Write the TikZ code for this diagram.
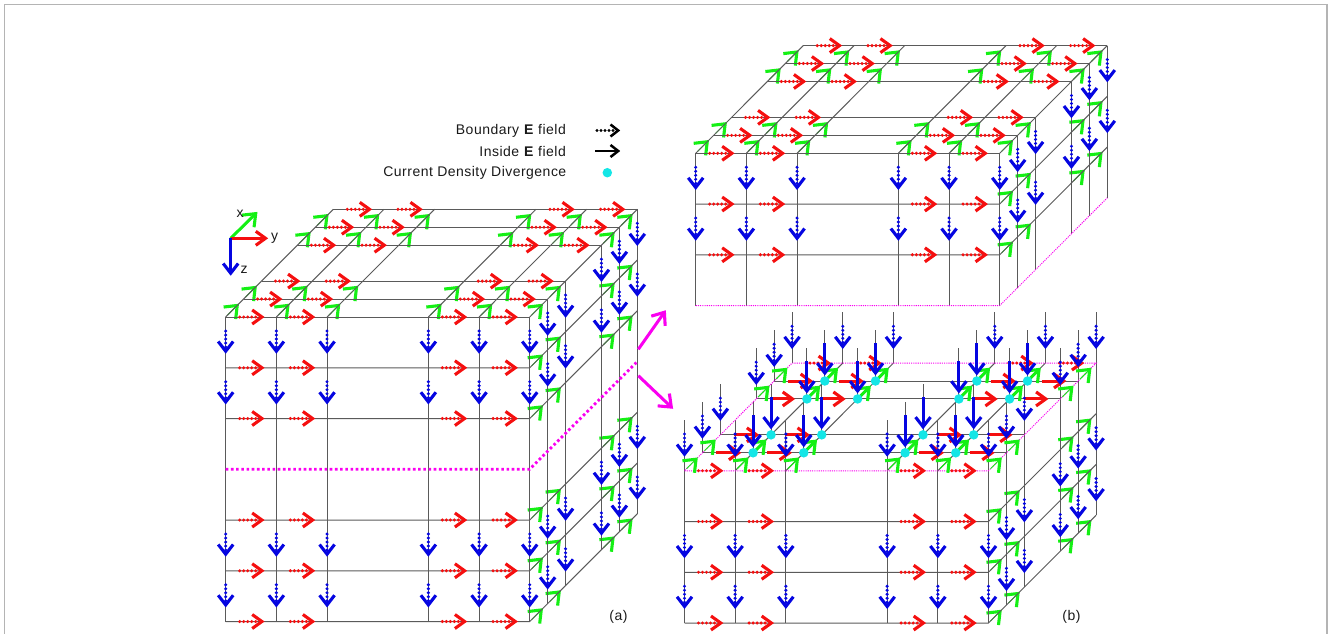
\documentclass[tikz,border=0pt]{standalone}
\usepackage{fontspec}
\setmainfont{Liberation Sans}
\newfontfamily\legendfont[LetterSpace=3.4]{Liberation Sans}
\usetikzlibrary{arrows.meta}

\definecolor{c2Grid}{RGB}{90,90,90}
\definecolor{c2Frame}{RGB}{180,180,180}
\definecolor{c2Red}{RGB}{245,15,15}
\definecolor{c2Green}{RGB}{20,240,20}
\definecolor{c2Blue}{RGB}{5,5,225}
\definecolor{c2Cut}{RGB}{250,0,240}
\definecolor{c2Div}{RGB}{20,230,230}

%% open chevron head, its outer point on the end of the path
\pgfdeclarearrow{
  name = Chev,
  setup code = {
    \pgfarrowssettipend{0pt}
    \pgfarrowssetbackend{-\pgfarrowlength}
    \pgfarrowssetlineend{-3pt}
    \pgfarrowssavethe\pgfarrowlength
    \pgfarrowssavethe\pgfarrowwidth
    \pgfarrowssavethe\pgfarrowlinewidth
  },
  drawing code = {
    \pgfsetdash{}{0pt}
    \pgfsetmiterjoin
    \pgfsetbuttcap
    \pgfsetlinewidth{\pgfarrowlinewidth}
    \pgfpathmoveto{\pgfqpoint{-\pgfarrowlength}{.5\pgfarrowwidth}}
    \pgfpathlineto{\pgfqpoint{-2.8pt}{0pt}}
    \pgfpathlineto{\pgfqpoint{-\pgfarrowlength}{-.5\pgfarrowwidth}}
    \pgfusepathqstroke
  },
  parameters = {\the\pgfarrowlength,\the\pgfarrowwidth,\the\pgfarrowlinewidth},
  defaults = {length=11pt, width=12pt, line width=2.7pt}
}

\tikzset{
  gridline/.style={draw=c2Grid, line width=1pt},
  cutthin/.style={draw=c2Cut, line width=1pt, dash pattern=on 1.1pt off 1.1pt},
  cutthick/.style={draw=c2Cut, line width=2.8pt, dash pattern=on 2.6pt off 2.6pt},
  thin shaft/.style={line width=1pt},
  solid shaft/.style={line width=3pt},
  redhead/.style={-{Chev[length=12.5pt, width=14pt, line width=3.1pt]}, draw=c2Red},
  greenhead/.style={-{Chev[length=13.5pt, width=17pt, line width=3.1pt]}, draw=c2Green},
  bluehead/.style={-{Chev[length=12.5pt, width=15pt, line width=3.1pt]}, draw=c2Blue},
  blackhead/.style={-{Chev[length=10.5pt, width=12pt, line width=2.5pt]}, draw=black},
  cuthead/.style={-{Chev[length=13.5pt, width=17pt, line width=3.1pt]}, draw=c2Cut, line width=3pt},
  divdot/.style={circle, fill=c2Div, draw=none, inner sep=0pt, minimum size=9.5pt},
  legendtext/.style={anchor=east, inner sep=0pt, font=\legendfont\fontsize{14}{16}\selectfont, text=black!90},
}

%% grid point: column, row, depth
\newcommand{\pnt}[3]{({(#1)*50.67+(#3)*17.93},{(#2)*50.75-(#3)*17.95})}
%% run of dots: colour, start point, direction x, direction y
\newcommand{\dotRun}[4]{\foreach \pp in {14,18,22,26,30} {\fill[#1, shift={#2}] ({\pp*#3},{\pp*#4}) circle[radius=1.7pt];}}
\newcommand{\redDot}[3]{\dotRun{c2Red}{\pnt{#1}{#2}{#3}}{1}{0}\draw[redhead, thin shaft, shift={\pnt{#1}{#2}{#3}}] (35,0) -- (39,0);}
\newcommand{\redLine}[3]{\draw[redhead, solid shaft, shift={\pnt{#1}{#2}{#3}}] (14,0) -- (39,0);}
\newcommand{\blueDot}[3]{\dotRun{c2Blue}{\pnt{#1}{#2}{#3}}{0}{1}\draw[bluehead, thin shaft, shift={\pnt{#1}{#2}{#3}}] (0,33) -- (0,37);}
\newcommand{\blueLine}[3]{\draw[bluehead, solid shaft, shift={\pnt{#1}{#2}{#3}}] (0,13) -- (0,45.5);}
\newcommand{\greenDot}[3]{\draw[greenhead, thin shaft, shift={\pnt{#1}{#2}{#3}}] (2,-2) -- (13.5,-13.5);}
\newcommand{\greenLine}[3]{\draw[greenhead, solid shaft, shift={\pnt{#1}{#2}{#3}}] (2,-2) -- (13.5,-13.5);}

\def\colsAll{0,1,2,4,5,6}
\def\colsIn{1,2,4,5}
\def\colsRed{0,1,4,5}
\def\depGreen{0,1,4,5}

%% top face and rows 0 to 2
\newcommand{\upperBlock}{
  \foreach \cc in \colsAll {\foreach \dd in \depGreen {\greenDot{\cc}{0}{\dd}}}
  \foreach \rr in {1,2} {\foreach \dd in \depGreen {\greenDot{6}{\rr}{\dd}}}
  \foreach \dd in \colsAll {
    \draw[gridline] \pnt{0}{0}{\dd} -- \pnt{6}{0}{\dd};
    \draw[gridline] \pnt{6}{0}{\dd} -- \pnt{6}{3}{\dd};
  }
  \foreach \cc in \colsAll {
    \draw[gridline] \pnt{\cc}{0}{0} -- \pnt{\cc}{0}{6};
    \draw[gridline] \pnt{\cc}{0}{0} -- \pnt{\cc}{3}{0};
  }
  \foreach \rr in {1,2} {
    \draw[gridline] \pnt{0}{\rr}{0} -- \pnt{6}{\rr}{0} -- \pnt{6}{\rr}{6};
  }
  \foreach \cc in \colsRed {
    \foreach \dd in \colsAll {\redDot{\cc}{0}{\dd}}
    \foreach \rr in {1,2} {\redDot{\cc}{\rr}{0}}
  }
  \foreach \rr in {0,1} {
    \foreach \cc in \colsAll {\blueDot{\cc}{\rr}{0}}
    \foreach \dd in {1,2,4,5,6} {\blueDot{6}{\rr}{\dd}}
  }
}
%% rows 3 to 6
\newcommand{\lowerBlock}{
  \foreach \rr in {4,5,6} {\foreach \dd in \depGreen {\greenDot{6}{\rr}{\dd}}}
  \foreach \dd in \colsAll {\draw[gridline] \pnt{6}{3}{\dd} -- \pnt{6}{6}{\dd};}
  \foreach \cc in \colsAll {\draw[gridline] \pnt{\cc}{3}{0} -- \pnt{\cc}{6}{0};}
  \foreach \rr in {4,5,6} {
    \draw[gridline] \pnt{0}{\rr}{0} -- \pnt{6}{\rr}{0} -- \pnt{6}{\rr}{6};
    \foreach \cc in \colsRed {\redDot{\cc}{\rr}{0}}
  }
  \foreach \rr in {4,5} {
    \foreach \cc in \colsAll {\blueDot{\cc}{\rr}{0}}
    \foreach \dd in {1,2,4,5,6} {\blueDot{6}{\rr}{\dd}}
  }
}
%% the cut plane with its divergence points
\newcommand{\planeBlock}{
  \foreach \dd in \colsIn {
    \draw[gridline] \pnt{0}{3}{\dd} -- \pnt{6}{3}{\dd};
    \draw[gridline] \pnt{\dd}{3}{0} -- \pnt{\dd}{3}{6};
  }
  \foreach \cc in \colsAll {\foreach \dd in \colsAll {
    \draw[gridline] \pnt{\cc}{2}{\dd} -- \pnt{\cc}{3}{\dd};
  }}
  \draw[cutthin] \pnt{0}{3}{0} -- \pnt{6}{3}{0} -- \pnt{6}{3}{6} -- \pnt{0}{3}{6} -- cycle;
  \foreach \cc in \colsRed {
    \foreach \dd in {0,6} {\redDot{\cc}{3}{\dd}}
    \foreach \dd in \colsIn {\redLine{\cc}{3}{\dd}}
  }
  \foreach \cc in \colsAll {\greenDot{\cc}{3}{0}}
  \foreach \cc in {0,6} {\foreach \dd in {1,4,5} {\greenDot{\cc}{3}{\dd}}}
  \foreach \cc in \colsIn {\foreach \dd in {1,4,5} {\greenLine{\cc}{3}{\dd}}}
  \foreach \cc in \colsAll {\foreach \dd in {0,6} {\blueDot{\cc}{2}{\dd}}}
  \foreach \cc in {0,6} {\foreach \dd in \colsIn {\blueDot{\cc}{2}{\dd}}}
  \foreach \cc in \colsIn {\foreach \dd in \colsIn {\blueLine{\cc}{2}{\dd}}}
  \foreach \cc in \colsIn {\foreach \dd in \colsIn {
    \node[divdot] (div\cc\dd) at \pnt{\cc}{3}{\dd} {};
  }}
}

\begin{document}
\begin{tikzpicture}[x=1pt, y=-1pt]
\useasboundingbox (0,0) rectangle (1330,634);
%% ── Page frame ───────────────────────────────────────────────────────────
\draw[draw=c2Frame, line width=1.2pt] (4.5,650) -- (4.5,4.5) -- (1327,4.5) -- (1327,650);
%% ── Block (a) ────────────────────────────────────────────────────────────
\begin{scope}[shift={(225.7,317)}]
  \upperBlock
  \lowerBlock
  \draw[cutthick] \pnt{0}{3}{0} -- \pnt{6}{3}{0} -- \pnt{6}{3}{6};
\end{scope}
%% ── Block (b), upper half ────────────────────────────────────────────────
\begin{scope}[shift={(695.7,153.3)}]
  \upperBlock
  \draw[cutthin] \pnt{0}{3}{0} -- \pnt{6}{3}{0} -- \pnt{6}{3}{6};
\end{scope}
%% ── Block (b), lower half ────────────────────────────────────────────────
\begin{scope}[shift={(684.5,318.5)}]
  \lowerBlock
  \planeBlock
\end{scope}
%% ── Axes ─────────────────────────────────────────────────────────────────
\coordinate (axo) at (230.7,238.3);
\coordinate (axx) at (257.7,211.7);
\coordinate (axy) at (268.3,238.3);
\coordinate (axz) at (230.7,276);
\draw[greenhead, solid shaft] (axo) -- (axx);
\draw[redhead, solid shaft] (axo) -- (axy);
\draw[bluehead, solid shaft] (axo) -- (axz);
\node[legendtext, anchor=center] (labx) at (240,213.5) {x};
\node[legendtext, anchor=center] (laby) at (274.5,238) {y};
\node[legendtext, anchor=center] (labz) at (244,270) {z};
%% ── Legend ───────────────────────────────────────────────────────────────
\node[legendtext] (legbnd) at (566,130.5) {Boundary \textbf{E} field};
\node[legendtext] (legins) at (566,151.5) {Inside \textbf{E} field};
\node[legendtext] (legdiv) at (566.5,172.5) {Current Density Divergence};
\coordinate (bndtail) at (583,130.5);
\coordinate (bndneck) at (617,130.5);
\coordinate (bndtip) at (621,130.5);
\coordinate (instail) at (595,151);
\coordinate (instip) at (621,151);
\dotRun{black}{(bndtail)}{1}{0}
\draw[blackhead, thin shaft] (bndneck) -- (bndtip);
\draw[blackhead, solid shaft, line width=2.4pt] (instail) -- (instip);
\node[divdot] (legdot) at (607.3,172.7) {};
%% ── Cut arrows ───────────────────────────────────────────────────────────
\coordinate (cuttop) at (638.3,349.3);
\coordinate (cuttoptip) at (666,310);
\coordinate (cutlow) at (638.3,375.7);
\coordinate (cutlowtip) at (673.3,409);
\draw[cuthead] (cuttop) -- (cuttoptip);
\draw[cuthead] (cutlow) -- (cutlowtip);
%% ── Panel labels ─────────────────────────────────────────────────────────
\node[legendtext, anchor=center] (laba) at (618.5,616.5) {(a)};
\node[legendtext, anchor=center] (labb) at (1071.5,616.5) {(b)};
\end{tikzpicture}
\end{document}
